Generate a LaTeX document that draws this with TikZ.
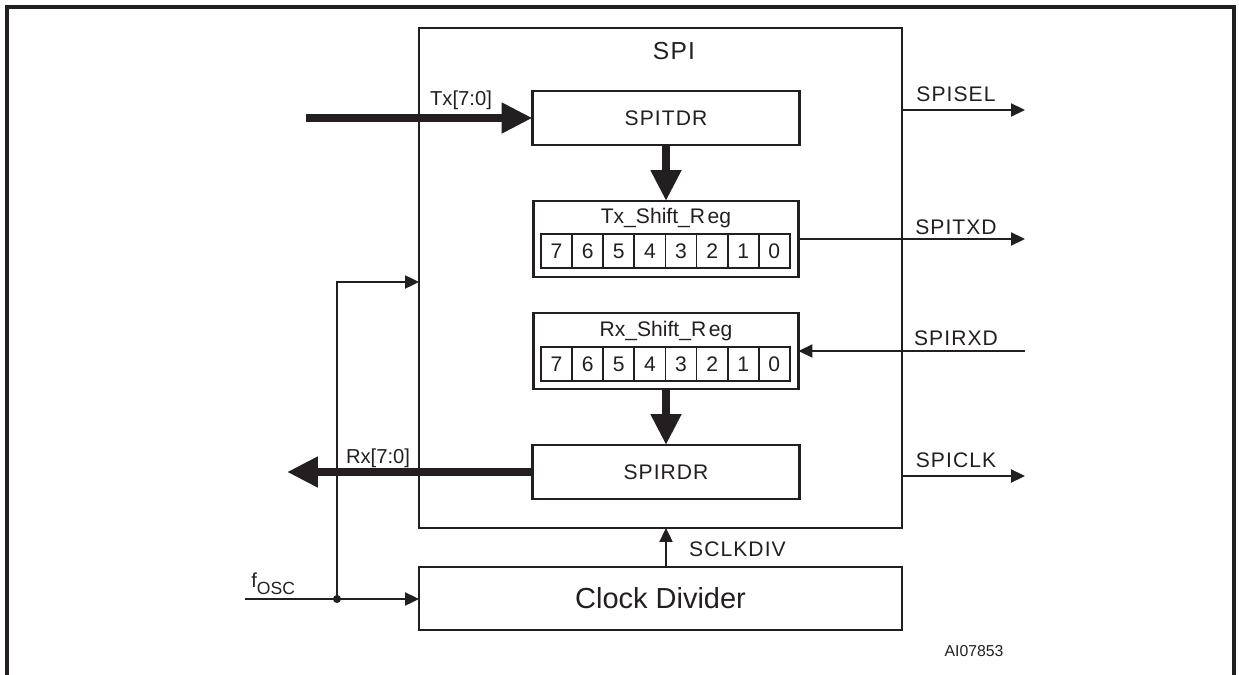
\documentclass[tikz,border=0pt]{standalone}
\usepackage{fontspec}
\setmainfont{Liberation Sans}
\newfontfamily\spaced[LetterSpace=5]{Liberation Sans}
\usetikzlibrary{arrows.meta}
\definecolor{ink}{RGB}{35,31,32}

\begin{document}
\begin{tikzpicture}[
   x=0.02cm, y=-0.02cm,
   every node/.style={text=ink},
   block/.style={draw=ink, line width=1.4pt, inner sep=0pt, outer sep=0pt},
   reg/.style={block, minimum width=5.34cm, minimum height=1.08cm, font=\spaced\fontsize{12}{13}\selectfont},
   shreg/.style={block, minimum width=5.3cm, minimum height=1.52cm},
   bit/.style={draw=ink, line width=1pt, inner sep=0pt, outer sep=0pt, minimum width=0.622cm, minimum height=0.68cm, font=\fontsize{12}{13}\selectfont},
   sig/.style={font=\spaced\fontsize{12}{13}\selectfont},
   bus/.style={draw=ink, line width=5pt, -{Triangle[length=0.62cm, width=0.58cm]}},
   wire/.style={draw=ink, line width=1.2pt, -{Triangle[length=0.28cm, width=0.26cm]}}
]
\useasboundingbox (0,0) rectangle (1239,675);
\draw[ink, line width=2pt] (7,680) -- (7,7) -- (1234,7) -- (1234,680);

% SPI block
\node[block, minimum width=9.66cm, minimum height=10cm] (spi) at (660.5,278) {};
\node[font=\spaced\fontsize{14}{15}\selectfont] (spiname) at (674,51) {SPI};
\node[reg] (tdr) at (666,118) {SPITDR};
\node[shreg] (txsr) at (666,239) {};
\node[font=\fontsize{12}{13}\selectfont] (txname) at (666,218) {Tx\_Shift\_R\kern1.5pt eg};
\foreach \b [count=\i from 0] in {7,...,0}
   \node[bit] (tx\b) at ({556.6+\i*31.1},251) {\b};
\node[shreg] (rxsr) at (666,351) {};
\node[font=\fontsize{12}{13}\selectfont] (rxname) at (666,331) {Rx\_Shift\_R\kern1.5pt eg};
\foreach \b [count=\i from 0] in {7,...,0}
   \node[bit] (rx\b) at ({556.6+\i*31.1},364) {\b};
\node[reg] (rdr) at (666,472) {SPIRDR};

% Clock divider
\node[block, minimum width=9.66cm, minimum height=1.26cm, font=\fontsize{16.5}{18}\selectfont] (clkdiv) at (660.5,598.5) {Clock Divider};

% free ends
\coordinate (txin) at (306,118);
\coordinate (rxout) at (287,472);
\coordinate (osc) at (245,599);
\coordinate (tap) at (337,599);
\coordinate (bend) at (337,282);
\coordinate (selend) at (1025,110);
\coordinate (txdend) at (1025,239);
\coordinate (rxdsrc) at (1025,351);
\coordinate (clkend) at (1025,476);

% data buses
\draw[bus] (txin) -- (txin -| tdr.west);
\draw[bus] (tdr.south) -- (txsr.north);
\draw[bus] (rxsr.south) -- (rdr.north);
\draw[bus] (rdr.west) -- (rdr.west -| rxout);
\node[font=\fontsize{11.5}{12}\selectfont] (txlbl) at (461,100) {Tx[7:0]};
\node[font=\fontsize{11.5}{12}\selectfont] (rxlbl) at (378,458) {Rx[7:0]};

% pins
\draw[wire] (spi.east |- selend) -- (selend);
\draw[wire] (txsr.east) -- (txdend);
\draw[wire] (rxdsrc) -- (rxsr.east);
\draw[wire] (spi.east |- clkend) -- (clkend);
\node[sig] (sellbl) at (956,94) {SPISEL};
\node[sig] (txdlbl) at (956,227) {SPITXD};
\node[sig] (rxdlbl) at (956,338) {SPIRXD};
\node[sig] (clklbl) at (956,460) {SPICLK};

% clocks
\draw[wire] (clkdiv.north -| rdr.south) -- (rdr.south |- spi.south);
\node[sig, anchor=west] (divlbl) at (683,549) {SCLKDIV};
\draw[wire] (osc) -- (osc -| clkdiv.west);
\draw[wire] (tap) -- (bend) -- (bend -| spi.west);
\fill[ink] (tap) circle (2.3pt);
\node[anchor=base west, font=\fontsize{11.5}{12}\selectfont, inner sep=0pt] (osclbl) at (251,587) {f\raisebox{-4pt}{\fontsize{10}{11}\selectfont OSC}};

\node[font=\fontsize{9}{10}\selectfont] (figid) at (974,651) {AI07853};
\end{tikzpicture}
\end{document}
